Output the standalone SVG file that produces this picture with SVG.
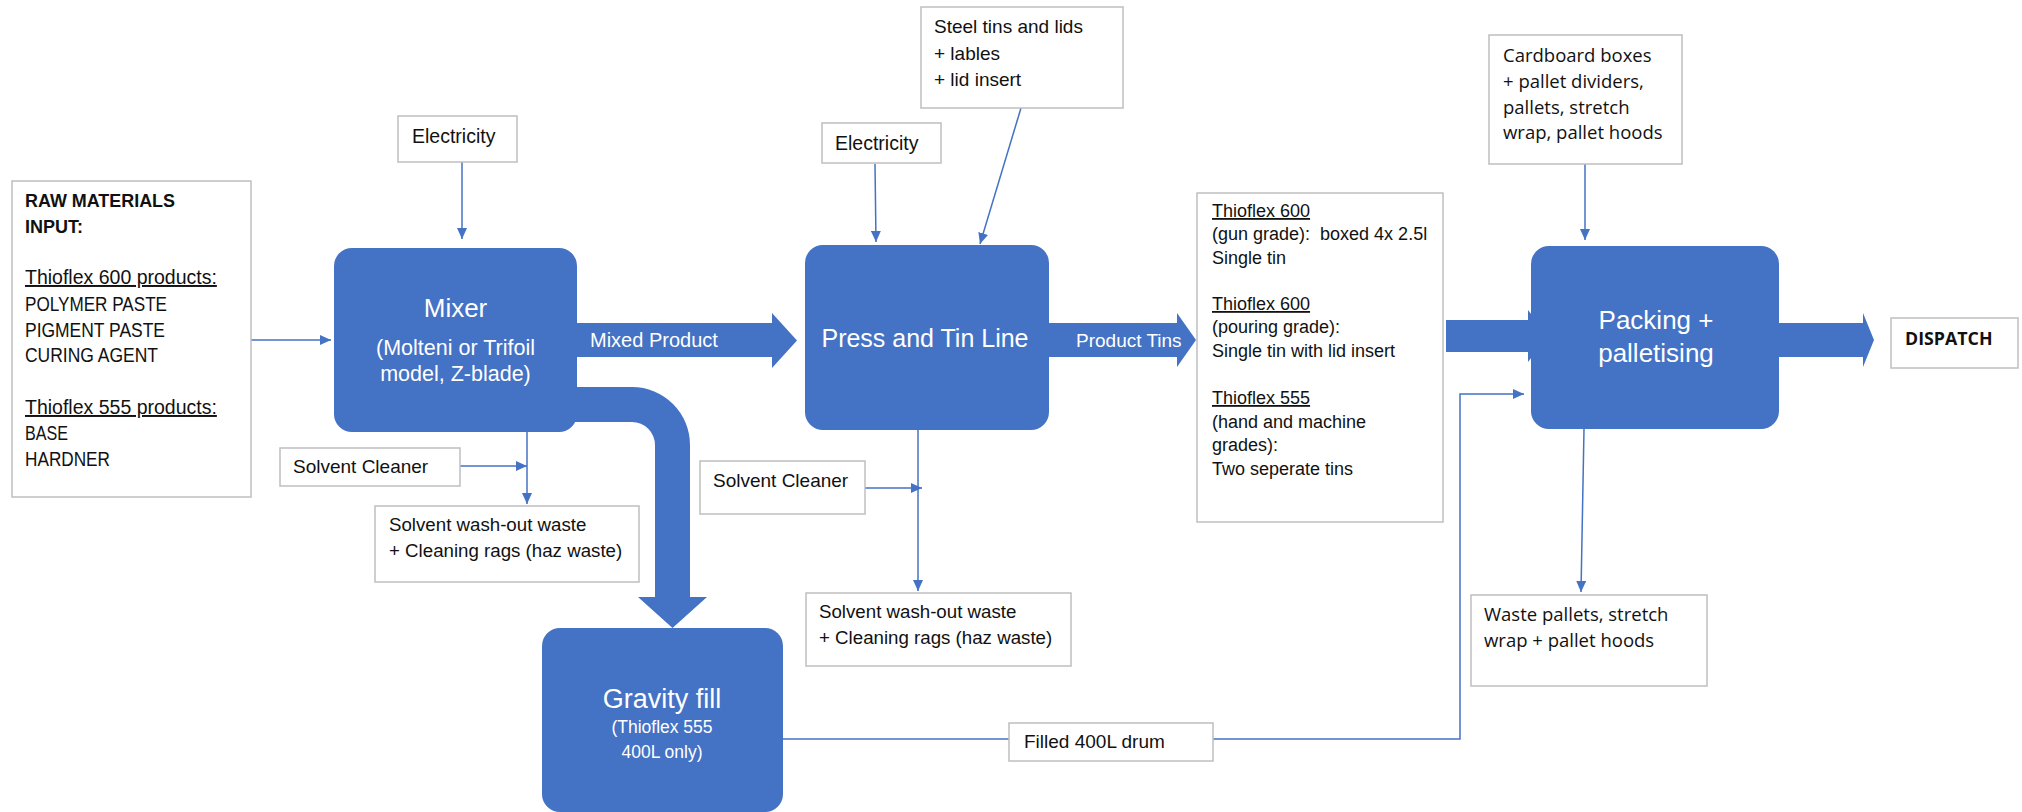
<svg xmlns="http://www.w3.org/2000/svg" width="2022" height="812" viewBox="0 0 2022 812">
<style>
.box{fill:#fff;stroke:#BFBFBF;stroke-width:1.5}
.proc{fill:#4472C4}
.t{font-family:"Liberation Sans",Arial,sans-serif;font-size:19px;fill:#111}
.s{font-family:"Open Sans","Liberation Sans",sans-serif;font-size:18.5px;fill:#111}
.w{font-family:"Liberation Sans",Arial,sans-serif;fill:#fff;text-anchor:middle}
.ln{fill:none;stroke:#4472C4;stroke-width:1.5}
.ar{marker-end:url(#ah)}
.u{text-decoration:underline}
</style>
<defs>
<marker id="ah" markerUnits="userSpaceOnUse" markerWidth="11" markerHeight="10" refX="11" refY="5" orient="auto">
<path d="M0,0 L11,5 L0,10 Z" fill="#4472C4"/>
</marker>
</defs>
<rect width="2022" height="812" fill="#fff"/>

<g id="connectors">
<path class="ln ar" d="M251,340 L331,340"/>
<path class="ln ar" d="M462,162 L462,239"/>
<path class="ln ar" d="M527,432 L527,504"/>
<path class="ln ar" d="M460,466 L527,466"/>
<path class="ln ar" d="M875,164 L876,242"/>
<path class="ln ar" d="M1021,108 L980,244"/>
<path class="ln ar" d="M918,430 L918,591"/>
<path class="ln ar" d="M865,488 L922,488"/>
<path class="ln" d="M783,739 L1009,739"/>
<path class="ln ar" d="M1213,739 L1460,739 L1460,394 L1524,394"/>
<path class="ln ar" d="M1585,164 L1585,240"/>
<path class="ln ar" d="M1584,429 L1581,592"/>
<polygon class="proc" points="570,323 772,323 772,313 797,340.5 772,368 772,357 570,357"/>
<polygon class="proc" points="1040,323 1177,323 1177,313 1196,340 1177,367 1177,357 1040,357"/>
<polygon class="proc" points="1446,320 1528,320 1528,310 1548,336 1528,362 1528,352 1446,352"/>
<polygon class="proc" points="1770,323 1863,323 1863,313 1874,340 1863,367 1863,357 1770,357"/>
<path class="proc" d="M570,387 L632,387 A58,58 0 0 1 690,445 L690,597 L707,597 L672.5,628 L638,597 L655,597 L655,445 A23,23 0 0 0 632,422 L570,422 Z"/>
<text class="w" x="590" y="347" style="font-size:20px;text-anchor:start">Mixed Product</text>
<text class="w" x="1076" y="347" style="font-size:19px;text-anchor:start">Product Tins</text>
</g>

<g id="raw-materials">
<rect class="box" x="12" y="181" width="239" height="316"/>
<text class="t" style="font-size:18px;font-weight:bold" x="25" y="207" textLength="150" lengthAdjust="spacingAndGlyphs">RAW MATERIALS</text>
<text class="t" style="font-size:18px;font-weight:bold" x="25" y="233">INPUT:</text>
<text class="t u" style="font-size:19.5px" x="25" y="284">Thioflex 600 products:</text>
<text class="t" style="font-size:19.5px" x="25" y="311" textLength="142" lengthAdjust="spacingAndGlyphs">POLYMER PASTE</text>
<text class="t" style="font-size:19.5px" x="25" y="337" textLength="140" lengthAdjust="spacingAndGlyphs">PIGMENT PASTE</text>
<text class="t" style="font-size:19.5px" x="25" y="362" textLength="133" lengthAdjust="spacingAndGlyphs">CURING AGENT</text>
<text class="t u" style="font-size:19.5px" x="25" y="414">Thioflex 555 products:</text>
<text class="t" style="font-size:19.5px" x="25" y="440" textLength="43" lengthAdjust="spacingAndGlyphs">BASE</text>
<text class="t" style="font-size:19.5px" x="25" y="466" textLength="85" lengthAdjust="spacingAndGlyphs">HARDNER</text>
</g>

<g id="electricity-1">
<rect class="box" x="398" y="116" width="119" height="46"/>
<text class="t" style="font-size:19.5px" x="412" y="143">Electricity</text>
</g>

<g id="mixer">
<rect class="proc" x="334" y="248" width="243" height="184" rx="18"/>
<text class="w" x="455.5" y="317" style="font-size:26px">Mixer</text>
<text class="w" x="455.5" y="355" style="font-size:21.5px">(Molteni or Trifoil</text>
<text class="w" x="455.5" y="381" style="font-size:21.5px">model, Z-blade)</text>
</g>

<g id="solvent-cleaner-1">
<rect class="box" x="280" y="448" width="180" height="38"/>
<text class="t" x="293" y="473">Solvent Cleaner</text>
</g>

<g id="washout-1">
<rect class="box" x="375" y="506" width="264" height="76"/>
<text class="t" style="font-size:18.7px" x="389" y="531">Solvent wash-out waste</text>
<text class="t" style="font-size:18.7px" x="389" y="557">+ Cleaning rags (haz waste)</text>
</g>

<g id="gravity-fill">
<rect class="proc" x="542" y="628" width="241" height="184" rx="18"/>
<text class="w" x="662" y="708" style="font-size:27px">Gravity fill</text>
<text class="w" x="662" y="733" style="font-size:17.5px">(Thioflex 555</text>
<text class="w" x="662" y="758" style="font-size:17.5px">400L only)</text>
</g>

<g id="electricity-2">
<rect class="box" x="822" y="123" width="119" height="40"/>
<text class="t" style="font-size:19.5px" x="835" y="150">Electricity</text>
</g>

<g id="steel-tins">
<rect class="box" x="921" y="7" width="202" height="101"/>
<text class="t" x="934" y="33">Steel tins and lids</text>
<text class="t" x="934" y="60">+ lables</text>
<text class="t" x="934" y="86">+ lid insert</text>
</g>

<g id="press-tin-line">
<rect class="proc" x="805" y="245" width="244" height="185" rx="18"/>
<text class="w" x="925" y="347" style="font-size:25px">Press and Tin Line</text>
</g>

<g id="solvent-cleaner-2">
<rect class="box" x="700" y="461" width="165" height="53"/>
<text class="t" x="713" y="487">Solvent Cleaner</text>
</g>

<g id="washout-2">
<rect class="box" x="806" y="593" width="265" height="73"/>
<text class="t" style="font-size:18.7px" x="819" y="618">Solvent wash-out waste</text>
<text class="t" style="font-size:18.7px" x="819" y="644">+ Cleaning rags (haz waste)</text>
</g>

<g id="filled-drum">
<rect class="box" x="1009" y="723" width="204" height="38"/>
<text class="t" x="1024" y="748">Filled 400L drum</text>
</g>

<g id="product-info">
<rect class="box" x="1197" y="193" width="246" height="329"/>
<text class="t u" style="font-size:18px" x="1212" y="217">Thioflex 600</text>
<text class="t" style="font-size:18px" x="1212" y="240" xml:space="preserve">(gun grade):  boxed 4x 2.5l</text>
<text class="t" style="font-size:18px" x="1212" y="264">Single tin</text>
<text class="t u" style="font-size:18px" x="1212" y="310">Thioflex 600</text>
<text class="t" style="font-size:18px" x="1212" y="333">(pouring grade):</text>
<text class="t" style="font-size:18px" x="1212" y="357">Single tin with lid insert</text>
<text class="t u" style="font-size:18px" x="1212" y="404">Thioflex 555</text>
<text class="t" style="font-size:18px" x="1212" y="428">(hand and machine</text>
<text class="t" style="font-size:18px" x="1212" y="451">grades):</text>
<text class="t" style="font-size:18px" x="1212" y="475">Two seperate tins</text>
</g>

<g id="cardboard">
<rect class="box" x="1489" y="35" width="193" height="129"/>
<text class="s" x="1503" y="62">Cardboard boxes</text>
<text class="s" x="1503" y="88">+ pallet dividers,</text>
<text class="s" x="1503" y="114">pallets, stretch</text>
<text class="s" x="1503" y="139">wrap, pallet hoods</text>
</g>

<g id="packing">
<rect class="proc" x="1531" y="246" width="248" height="183" rx="18"/>
<text class="w" x="1656" y="329" style="font-size:26px">Packing +</text>
<text class="w" x="1656" y="362" style="font-size:26px">palletising</text>
</g>

<g id="waste-pallets">
<rect class="box" x="1471" y="595" width="236" height="91"/>
<text class="s" x="1484" y="621">Waste pallets, stretch</text>
<text class="s" x="1484" y="647">wrap + pallet hoods</text>
</g>

<g id="dispatch">
<rect class="box" x="1891" y="318" width="127" height="50"/>
<text class="s" style="font-size:17.8px;font-weight:bold" x="1905" y="345">DISPATCH</text>
</g>
</svg>
